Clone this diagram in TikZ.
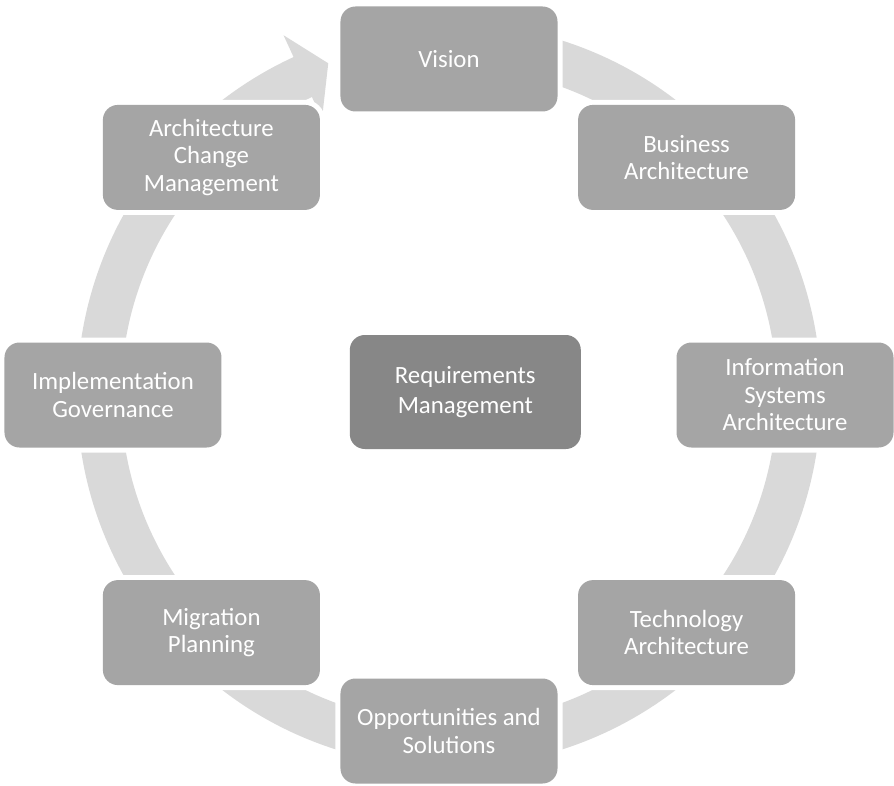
\documentclass[tikz,border=0pt]{standalone}
\usepackage{fontspec}
\setmainfont{Carlito}
\definecolor{ringgray}{HTML}{D9D9D9}
\definecolor{boxgray}{HTML}{A5A5A5}
\definecolor{coregray}{HTML}{878787}
\tikzset{
  ring/.style={draw=ringgray, line width=44pt},
  ringhead/.style={fill=ringgray},
  phase/.style={rounded corners=15pt, minimum width=217pt, minimum height=105pt,
    inner sep=0pt, fill=boxgray, text=white, align=center,
    font=\fontsize{24.8}{27.5}\selectfont,
    preaction={draw=white, line width=10pt}},
  core/.style={phase, minimum width=231pt, minimum height=114pt, fill=coregray,
    font=\fontsize{24.8}{30}\selectfont}
}
\begin{document}
\begin{tikzpicture}[x=1pt, y=1pt]
  \useasboundingbox (-449,-390) rectangle (445,395);
  % circular flow band with its arrowhead before the first phase
  \draw[ring] (80:350) arc[start angle=80, end angle=-245.4, radius=350];
  \fill[ringhead] (114.7:396) -- (110:353) -- (114.7:304) -- cycle;
  % phases around the cycle
  \node[phase] (vision) at (90:336) {Vision};
  \node[phase] (business) at (45:336) {Business\\Architecture};
  \node[phase] (infosys) at (0:336) {Information\\Systems\\Architecture};
  \node[phase] (tech) at (-45:336) {Technology\\Architecture};
  \node[phase] (opps) at (-90:336) {Opportunities and\\Solutions};
  \node[phase] (migration) at (-135:336) {Migration\\Planning};
  \node[phase] (impl) at (180:336) {Implementation\\Governance};
  \node[phase] (change) at (135:336) {Architecture\\Change\\Management};
  % central phase
  \node[core] (reqs) at (16.3,3) {Requirements\\Management};
\end{tikzpicture}
\end{document}
